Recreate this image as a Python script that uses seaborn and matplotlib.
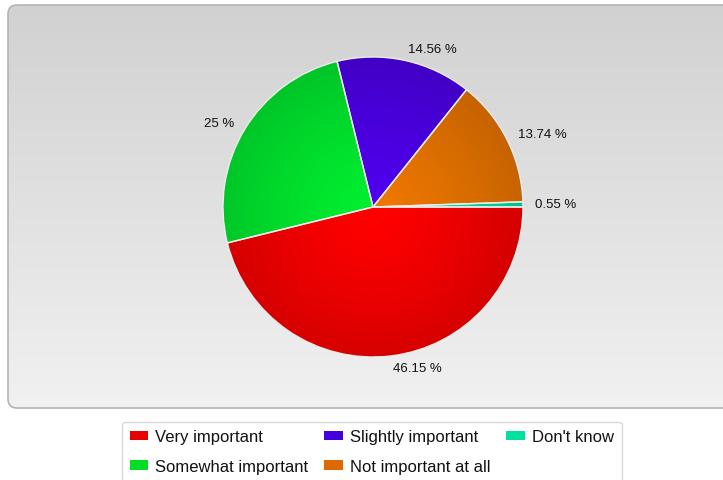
import numpy as np
import matplotlib
matplotlib.use("Agg")
import matplotlib.pyplot as plt
import seaborn as sns
from matplotlib.patches import FancyBboxPatch, Patch
from matplotlib.colors import to_rgb

sns.set_theme(style="white")
plt.rcParams['font.family'] = ['Liberation Sans', 'DejaVu Sans']

categories = ["Very important", "Somewhat important", "Slightly important",
              "Not important at all", "Don't know"]
values = [46.15, 25.0, 14.56, 13.74, 0.55]
pct_labels = ["46.15 %", "25 %", "14.56 %", "13.74 %", "0.55 %"]
colors = ["#ff0000", "#00f030", "#5000f0", "#f07800", "#00e8a8"]
legend_colors = ["#e60000", "#00dd22", "#4400dd", "#dd6a00", "#00e0a0"]

W, H = 723, 481
fig = plt.figure(figsize=(W / 100, H / 100), dpi=100)

# background axes in pixel coords
bg = fig.add_axes([0, 0, 1, 1])
bg.set_xlim(0, W)
bg.set_ylim(H, 0)
bg.axis("off")
panel = FancyBboxPatch((8, 6), 740, 403, boxstyle="round,pad=0,rounding_size=9",
                       facecolor="none", edgecolor="#b4b4b4", linewidth=1.2, zorder=3)
bg.add_patch(panel)
grad = np.linspace(0.82, 0.945, 256)[:, None] * np.ones((1, 2))
im = bg.imshow(np.dstack([grad, grad, grad]), extent=(8, 748, 409, 6),
               aspect="auto", zorder=1)
im.set_clip_path(panel)

# pie axes
cx, cy, R = 373, 208, 150
half = 200
ax = fig.add_axes([(cx - half) / W, (H - cy - half) / H, 2 * half / W, 2 * half / H])
ax.patch.set_alpha(0)
wedges, texts = ax.pie(values, labels=pct_labels, colors=colors, startangle=0,
                       counterclock=False, labeldistance=1.08,
                       wedgeprops=dict(edgecolor="#ececec", linewidth=1.0),
                       textprops=dict(fontsize=9.5, color="#111111"))
lim = half / R

# radial shading inside each wedge
n = 300
xs = np.linspace(-1, 1, n)
X, Y = np.meshgrid(xs, xs)
r = np.sqrt(X ** 2 + (Y + 0.05) ** 2)
shade = 1.0 - 0.17 * np.clip(r, 0, 1.1) ** 1.3
for w, c in zip(wedges, colors):
    rgb = np.array(to_rgb(c))
    img = np.clip(shade[..., None] * rgb[None, None, :], 0, 1)
    wi = ax.imshow(img, extent=(-1, 1, -1, 1), origin="lower", zorder=w.get_zorder() - 0.1)
    wi.set_clip_path(w)
    w.set_facecolor("none")
ax.set_xlim(-lim, lim)
ax.set_ylim(-lim, lim)
ax.set_aspect("equal")

# legend
handles = [Patch(facecolor=c, edgecolor="none") for c in legend_colors]
leg = fig.legend(handles, categories, ncol=3, loc="upper left",
                 bbox_to_anchor=(122 / W, 1 - 423 / H), borderaxespad=0,
                 frameon=True, fancybox=True,
                 fontsize=12, handlelength=1.1, handleheight=0.5, handletextpad=0.45,
                 columnspacing=0.95, labelspacing=0.85, borderpad=0.45)
fr = leg.get_frame()
fr.set_edgecolor("#d0d0d0")
fr.set_facecolor("white")
fr.set_linewidth(1.0)
for t in leg.get_texts():
    t.set_color("#111111")

fig.savefig("out.png", dpi=100)
